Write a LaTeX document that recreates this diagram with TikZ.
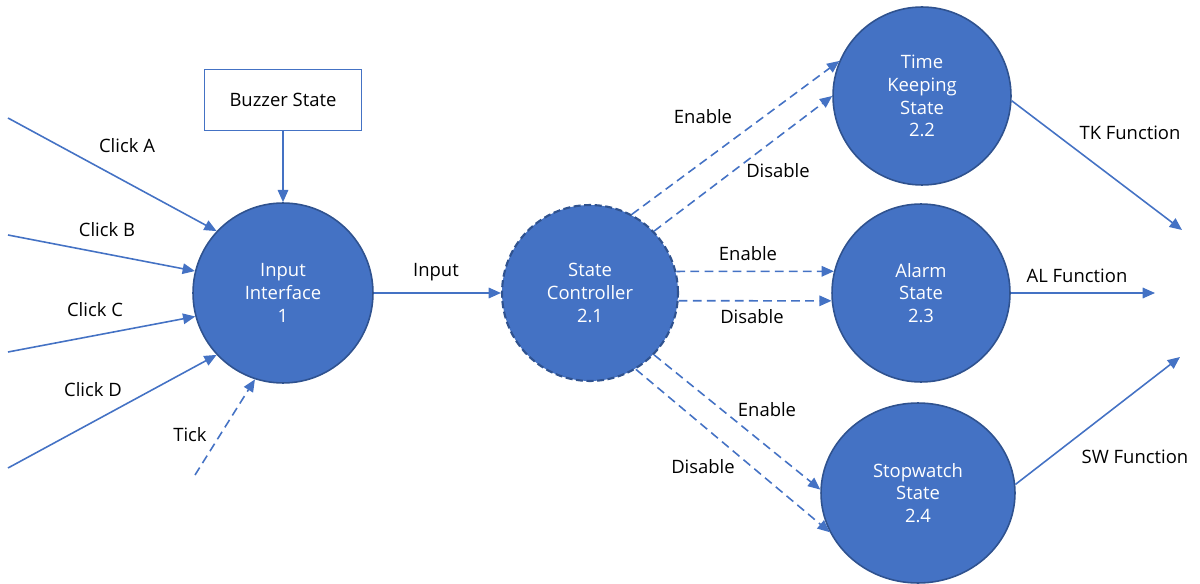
\documentclass[tikz,border=0pt]{standalone}
\usepackage{fontspec}
\setmainfont{Open Sans}
\usetikzlibrary{arrows.meta,shapes.geometric}
\definecolor{flowblue}{HTML}{4472C4}
\definecolor{rimblue}{HTML}{2F528F}
\begin{document}
\begin{tikzpicture}[x=0.02cm,y=-0.02cm,
  proc/.style={circle,fill=flowblue,draw=rimblue,line width=0.9pt,text=white,align=center,inner sep=0pt,font=\fontsize{10.5}{13}\selectfont},
  flow/.style={-{Triangle[length=7pt,width=6pt]},flowblue,line width=0.9pt},
  ctrl/.style={flow,dash pattern=on 5pt off 3pt},
  lab/.style={font=\fontsize{10.5}{13}\selectfont,text=black}]
\useasboundingbox (0,0) rectangle (1200,584);
% processes
\node[proc,minimum size=3.6cm] (input) at (283,293) {Input\\Interface\\1};
\node[proc,minimum size=3.52cm,dash pattern=on 4pt off 2pt,line width=1.2pt] (sc) at (590,293) {State\\Controller\\2.1};
\node[proc,minimum size=3.56cm] (tk) at (922,96) {Time\\Keeping\\State\\2.2};
\node[proc,minimum size=3.56cm] (al) at (921,293) {Alarm\\State\\2.3};
\node[proc,ellipse,minimum width=3.88cm,minimum height=3.6cm] (sw) at (918,493) {Stopwatch\\State\\2.4};
\node[draw=flowblue,fill=white,line width=0.8pt,minimum width=3.14cm,minimum height=1.22cm,lab] (buzzer) at (283,100) {Buzzer State};
% free ends
\coordinate (ca) at (8,118);
\coordinate (cb) at (8,235);
\coordinate (cc) at (8,352);
\coordinate (cd) at (8,468);
\coordinate (tick) at (195,475);
\coordinate (tkout) at (1182,230);
\coordinate (alout) at (1155,293);
\coordinate (swout) at (1180,357);
% inputs
\draw[flow] (ca) -- (input.137);
\draw[flow] (cb) -- (input.166);
\draw[flow] (cc) -- (input.195);
\draw[flow] (cd) -- (input.223);
\draw[flow,dash pattern=on 5pt off 3pt] (tick) -- (input.252);
\draw[flow] (buzzer.south) -- (input.north);
\draw[flow] (input.east) -- (sc.west);
% control flows
\draw[ctrl] (sc.62) -- (tk.157);
\draw[ctrl] (sc.44) -- (tk.180);
\draw[ctrl] (sc.14) -- (al.166);
\draw[ctrl] (sc.-5) -- (al.185);
\draw[ctrl] (sc.-44) -- (sw.178);
\draw[ctrl] (sc.-59) -- (sw.204);
% outputs
\draw[flow] (tk.-3) -- (tkout);
\draw[flow] (al.east) -- (alout);
\draw[flow] (sw.5) -- (swout);
% labels
\node[lab] (lca) at (127,146) {Click A};
\node[lab] (lcb) at (107,230) {Click B};
\node[lab] (lcc) at (95,310) {Click C};
\node[lab] (lcd) at (93,390) {Click D};
\node[lab] (ltick) at (190,435) {Tick};
\node[lab] (linput) at (436,272) {Input};
\node[lab] (ltken) at (703,117) {Enable};
\node[lab] (ltkdis) at (778,171) {Disable};
\node[lab] (lalen) at (748,254) {Enable};
\node[lab] (laldis) at (752,317) {Disable};
\node[lab] (lswen) at (767,410) {Enable};
\node[lab] (lswdis) at (703,467) {Disable};
\node[lab] (ltkf) at (1130,133) {TK Function};
\node[lab] (lalf) at (1077,276) {AL Function};
\node[lab] (lswf) at (1135,457) {SW Function};
\end{tikzpicture}
\end{document}
